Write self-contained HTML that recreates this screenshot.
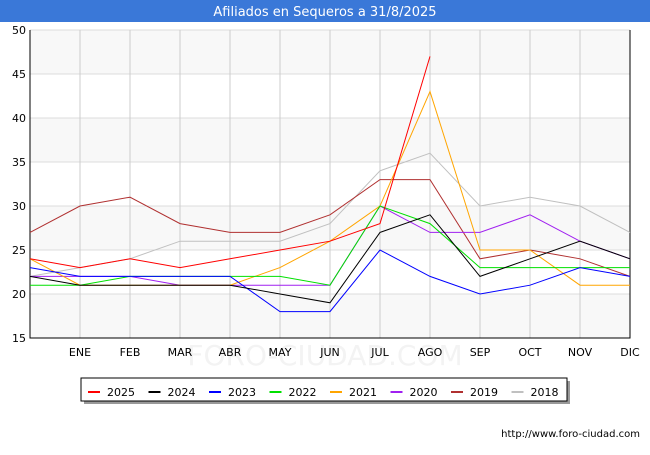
<!DOCTYPE html>
<html><head><meta charset="utf-8"><style>
body{margin:0;background:#fff;font-family:"Liberation Sans","DejaVu Sans",sans-serif}
</style></head><body>
<svg id="c" width="650" height="450" font-family="DejaVu Sans, Liberation Sans, sans-serif">
<rect x="0" y="0" width="650" height="22" fill="#3a78d8"/>
<text x="325" y="16" text-anchor="middle" fill="#fff" font-size="13">Afiliados en Sequeros a 31/8/2025</text>
<g id="grid"></g>
<text x="325" y="365" text-anchor="middle" font-size="28" fill="#f3f3f3">FORO-CIUDAD.COM</text>
<g id="labels"></g><g id="lines"></g>
<g id="legend"></g>
<text x="640" y="437" text-anchor="end" font-size="10" fill="#000">http://www.foro-ciudad.com</text>
</svg>
<script>
const months=["","ENE","FEB","MAR","ABR","MAY","JUN","JUL","AGO","SEP","OCT","NOV","DIC"];
const yTicks=[15,20,25,30,35,40,45,50];
const seriesNames=["2025","2024","2023","2022","2021","2020","2019","2018"];
const colors=["#ff0000","#000000","#0000ff","#00e000","#ffa500","#a020f0","#b03030","#c0c0c0"];
const s2025=[24,23,24,23,24,25,26,28,47];
const s2024=[22,21,21,21,21,20,19,27,29,22,24,26,24];
const s2023=[23,22,22,22,22,18,18,25,22,20,21,23,22];
const s2022=[21,21,22,22,22,22,21,30,28,23,23,23,23];
const s2021=[24,21,21,21,21,23,26,30,43,25,25,21,21];
const s2020=[22,22,22,21,21,21,21,30,27,27,29,26,24];
const s2019=[27,30,31,28,27,27,29,33,33,24,25,24,22];
const s2018=[22,23,24,26,26,26,28,34,36,30,31,30,27];
const data=[s2025,s2024,s2023,s2022,s2021,s2020,s2019,s2018];
const NS="http://www.w3.org/2000/svg";
const X0=30,X1=630,Y0=338,Y1=30;
const xs=i=>X0+i*(X1-X0)/12;
const ys=v=>Y0-(v-15)*(Y0-Y1)/35;
function mk(t,a,p){const e=document.createElementNS(NS,t);for(const k in a)e.setAttribute(k,a[k]);p.appendChild(e);return e;}
const g=document.getElementById('grid');
const lb=document.getElementById('labels');
for(let i=0;i<7;i++){if(i%2===0){const b=mk('rect',{x:X0,y:ys(yTicks[i+1]),width:X1-X0,height:ys(yTicks[i])-ys(yTicks[i+1]),fill:'#f8f8f8'},g);

}}
yTicks.forEach(v=>{const l=mk('line',{x1:X0,x2:X1,y1:ys(v),y2:ys(v),stroke:'#ddd'},g);


const t=mk('text',{x:X0-4,y:ys(v)+4,'text-anchor':'end','font-size':11},lb);t.textContent=v;

});
months.forEach((m,i)=>{if(i>0){const l=mk('line',{x1:xs(i),x2:xs(i),y1:Y1,y2:Y0,stroke:'#ccc'},g);

}
const t=mk('text',{x:xs(i),y:356,'text-anchor':'middle','font-size':11},lb);t.textContent=m;

});
const ax=mk('path',{d:`M${X0},${Y1}V${Y0}H${X1}V${Y1}`,fill:'none',stroke:'#000'},lb);


const L=document.getElementById('lines');
for(let k=data.length-1;k>=0;k--){const p=mk('polyline',{points:data[k].map((v,i)=>xs(i)+','+ys(v)).join(' '),fill:'none',stroke:colors[k],'stroke-width':1},L);

}
const lg=document.getElementById('legend');
const sh=mk('rect',{x:84,y:381,width:486,height:23,fill:'#999'},lg);


const bx=mk('rect',{x:81,y:378,width:486,height:23,fill:'#fff',stroke:'#000'},lg);


seriesNames.forEach((n,i)=>{const x=88+i*60.5;
const l=mk('line',{x1:x,x2:x+12,y1:392,y2:392,stroke:colors[i],'stroke-width':2},lg);


const t=mk('text',{x:x+19,y:396,'font-size':11},lg);t.textContent=n;

});
</script>
</body></html>
